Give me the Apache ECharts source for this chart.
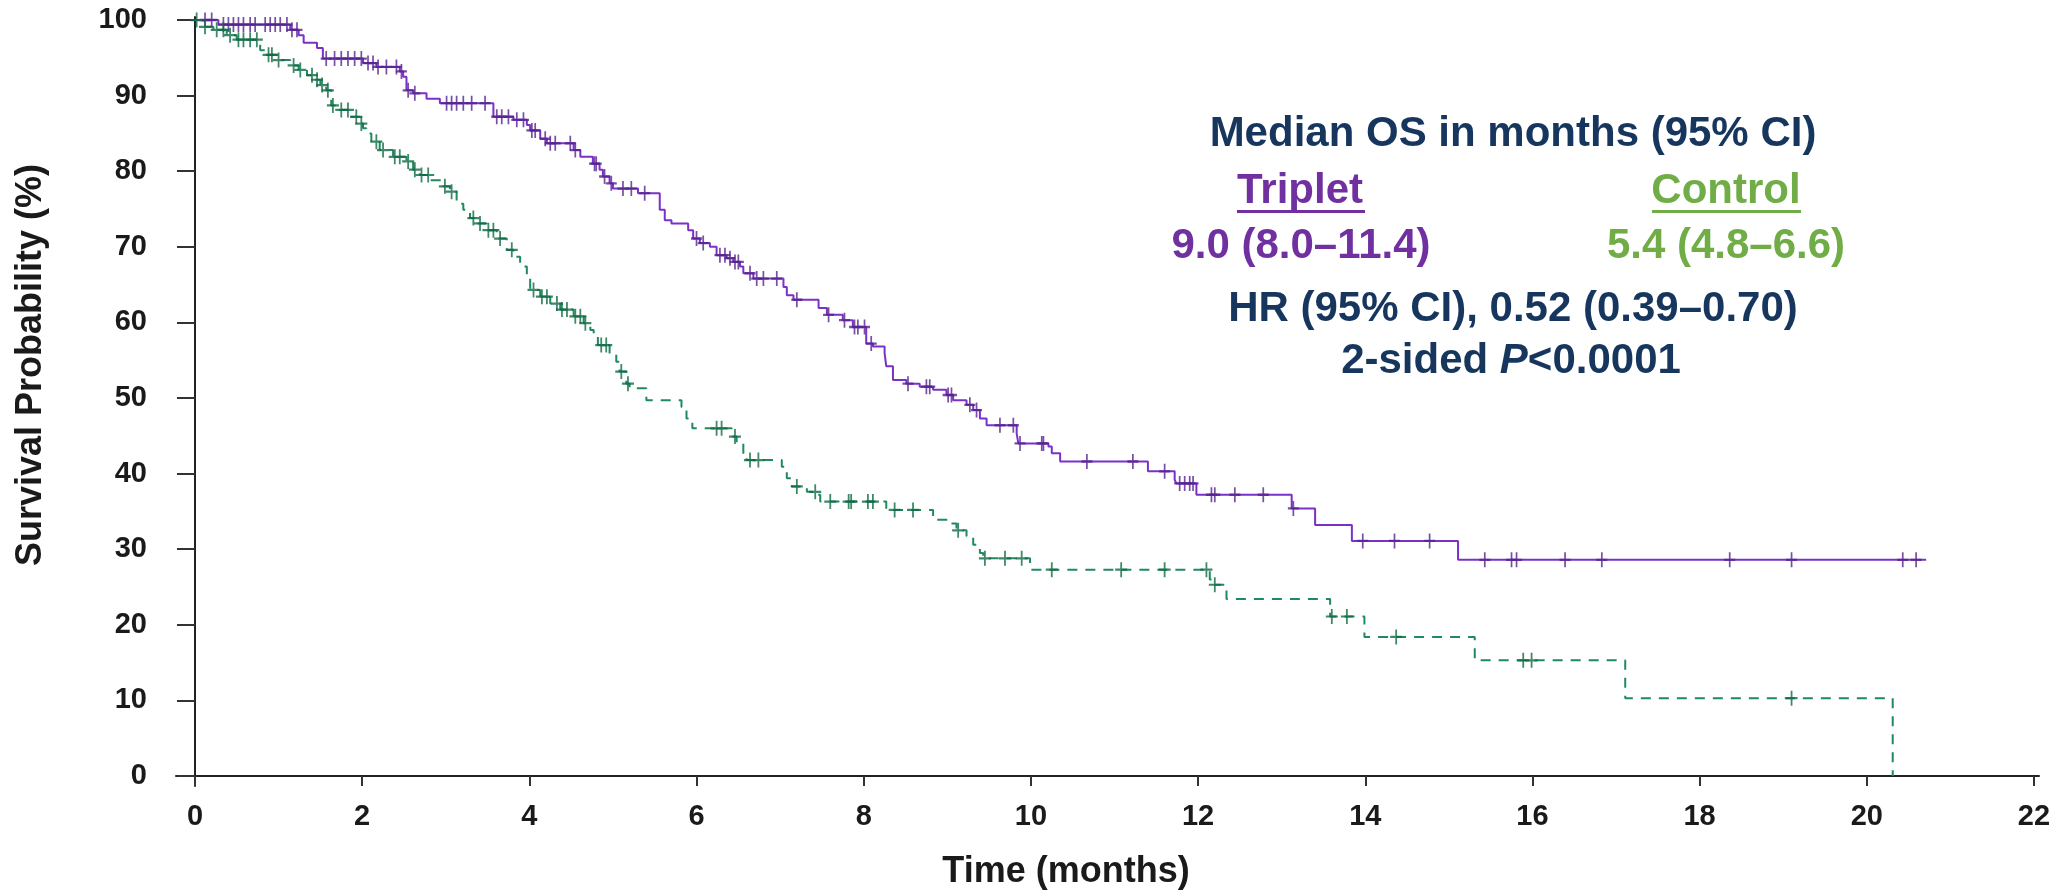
<!DOCTYPE html>
<html>
<head>
<meta charset="utf-8">
<title>Overall survival - Triplet vs Control</title>
<script src="https://cdn.jsdelivr.net/npm/echarts@6/dist/echarts.min.js"></script>
<style>
  html, body { margin: 0; padding: 0; background: #fff; }
  #chart { width: 2067px; height: 892px; }
</style>
</head>
<body>
<div id="chart"></div>
<script>
// KM curves: event time (months) and survival (%) just after it
var tripletTime = [0, 0.28, 1.14, 1.24, 1.30, 1.46, 1.53, 2.01, 2.17, 2.45, 2.49, 2.53, 2.61, 2.77, 2.93,
  3.57, 3.81, 3.97, 4.01, 4.13, 4.21, 4.53, 4.61, 4.76, 4.84, 4.88, 4.96, 5.00, 5.30, 5.56, 5.62, 5.70,
  5.90, 5.96, 6.04, 6.16, 6.24, 6.36, 6.44, 6.52, 6.56, 6.68, 7.04, 7.08, 7.16, 7.46, 7.56, 7.75, 7.87,
  8.03, 8.11, 8.25, 8.27, 8.35, 8.51, 8.67, 8.83, 8.99, 9.07, 9.23, 9.31, 9.39, 9.47, 9.83, 9.85, 10.21,
  10.25, 10.35, 11.40, 11.72, 11.74, 11.98, 13.12, 13.40, 13.84, 15.11, 20.71];
var tripletSurv = [100, 99.4, 98.7, 98.0, 97.0, 96.3, 94.9, 94.3, 93.8, 93.2, 92.5, 90.7, 90.3, 89.6, 89.0,
  87.2, 86.8, 86.1, 85.4, 84.3, 83.7, 82.8, 81.9, 81.0, 80.2, 79.3, 78.4, 77.7, 77.1, 74.9, 73.5, 73.1,
  72.2, 71.1, 70.5, 70.0, 68.9, 68.5, 68.0, 67.4, 66.5, 65.8, 64.7, 63.6, 63.0, 61.9, 61.0, 60.3, 59.4,
  57.2, 56.8, 55.9, 54.2, 52.4, 51.9, 51.5, 51.1, 50.4, 49.7, 49.1, 48.4, 47.3, 46.4, 45.3, 44.0, 43.6,
  42.7, 41.6, 40.3, 39.2, 38.7, 37.2, 35.4, 33.2, 31.1, 28.6, 28.6];

var controlTime = [0, 0.10, 0.22, 0.38, 0.50, 0.78, 0.86, 0.98, 1.14, 1.24, 1.34, 1.42, 1.50, 1.57, 1.63,
  1.73, 1.85, 1.97, 2.01, 2.05, 2.11, 2.21, 2.37, 2.53, 2.61, 2.69, 2.81, 2.97, 3.05, 3.13, 3.21, 3.29,
  3.37, 3.49, 3.61, 3.73, 3.81, 3.89, 3.97, 4.01, 4.13, 4.25, 4.37, 4.53, 4.65, 4.73, 4.77, 4.82, 4.96,
  5.04, 5.08, 5.16, 5.20, 5.40, 5.82, 5.88, 5.95, 6.42, 6.48, 6.56, 6.60, 7.02, 7.08, 7.14, 7.32, 7.44,
  7.48, 8.27, 8.83, 9.03, 9.11, 9.23, 9.31, 9.39, 9.43, 9.99, 12.14, 12.18, 12.34, 13.58, 13.99, 15.31,
  17.11, 20.31];
var controlSurv = [100, 99.1, 98.7, 98.0, 97.4, 96.0, 95.4, 94.7, 94.0, 93.4, 92.7, 92.1, 91.4, 90.7, 88.7,
  88.1, 87.2, 86.3, 85.7, 85.0, 83.9, 82.8, 81.9, 81.3, 80.2, 79.5, 78.8, 78.0, 77.3, 75.7, 74.9, 73.8,
  73.1, 72.2, 71.1, 69.6, 68.7, 67.4, 66.0, 64.3, 63.4, 62.5, 61.7, 60.8, 59.9, 59.0, 58.1, 57.0, 55.9,
  54.8, 53.5, 51.9, 51.3, 49.7, 48.8, 47.3, 46.0, 44.9, 44.0, 42.2, 41.8, 40.9, 39.4, 38.3, 37.6, 37.2,
  36.3, 35.2, 33.9, 33.4, 32.5, 31.7, 30.6, 29.5, 28.8, 27.3, 26.0, 25.3, 23.4, 21.1, 18.4, 15.3,
  10.3, 0];

// censored patients (months)
var tripletCensor = [0.12, 0.20, 0.34, 0.40, 0.46, 0.52, 0.58, 0.66, 0.72, 0.84, 0.90, 0.96, 1.02, 1.10,
  1.16, 1.22, 1.57, 1.67, 1.75, 1.83, 1.91, 1.99, 2.07, 2.13, 2.19, 2.29, 2.41, 2.47, 2.55, 2.63,
  3.01, 3.07, 3.13, 3.21, 3.31, 3.47, 3.61, 3.67, 3.75, 3.85, 3.93, 4.03, 4.07, 4.19, 4.25, 4.31,
  4.49, 4.55, 4.78, 4.80, 4.90, 4.98, 5.12, 5.22, 5.38, 6.00, 6.08, 6.28, 6.34, 6.40, 6.46, 6.50,
  6.64, 6.72, 6.80, 6.96, 7.20, 7.58, 7.77, 7.89, 7.93, 8.01, 8.09, 8.53, 8.75, 8.79, 9.01, 9.05,
  9.27, 9.35, 9.63, 9.79, 9.87, 10.13, 10.15, 10.67, 11.22, 11.60, 11.78, 11.84, 11.90, 11.94,
  12.16, 12.20, 12.44, 12.78, 13.14, 13.97, 14.35, 14.77, 15.43, 15.75, 15.81, 16.39, 16.83,
  18.36, 19.10, 20.43, 20.59];
var controlCensor = [0.02, 0.12, 0.26, 0.34, 0.42, 0.52, 0.58, 0.66, 0.74, 0.88, 0.92, 1.00, 1.18, 1.26,
  1.40, 1.46, 1.52, 1.59, 1.65, 1.75, 1.83, 1.93, 1.99, 2.17, 2.25, 2.39, 2.45, 2.55, 2.63, 2.71,
  2.79, 2.99, 3.07, 3.33, 3.41, 3.51, 3.57, 3.65, 3.79, 4.05, 4.15, 4.21, 4.33, 4.39, 4.45, 4.55,
  4.61, 4.67, 4.86, 4.92, 5.10, 5.18, 6.24, 6.30, 6.46, 6.64, 6.74, 7.20, 7.42, 7.60, 7.82, 7.85,
  8.05, 8.11, 8.37, 8.59, 9.13, 9.45, 9.69, 9.89, 10.25, 11.08, 11.60, 12.10, 12.20, 13.60, 13.78,
  14.37, 15.89, 15.99, 19.10];

var xTicks = [0, 2, 4, 6, 8, 10, 12, 14, 16, 18, 20, 22];
var yTicks = [0, 10, 20, 30, 40, 50, 60, 70, 80, 90, 100];

var FONT = "'Liberation Sans', Arial, Helvetica, sans-serif";
var NAVY = '#17365d';

function pairs(t, s) {
  var out = [];
  for (var i = 0; i < t.length; i++) out.push([t[i], s[i]]);
  return out;
}

// survival level of the step curve at time x
function survAt(x, t, s) {
  var v = s[0];
  for (var i = 0; i < t.length; i++) {
    if (t[i] <= x) v = s[i];
  }
  return v;
}

function censorPoints(c, t, s) {
  return c.map(function (x) { return [x, survAt(x, t, s)]; });
}

var plus = 'path://M0,8 L12,8 M6,0 L6,16';

function label(txt, x, y, color) {
  return {
    type: 'text', x: x, y: y,
    style: { text: txt, font: 'bold 42px ' + FONT, fill: color,
      align: 'center', verticalAlign: 'middle', textAlign: 'center', textVerticalAlign: 'middle' }
  };
}

var chart = echarts.init(document.getElementById('chart'));
chart.setOption({
  animation: false,
  backgroundColor: '#fff',
  grid: { left: 176, right: 28, top: 17, bottom: 106 },
  xAxis: {
    type: 'value',
    min: -0.227,
    max: 22.06,
    axisLine: { show: true, lineStyle: { color: '#222', width: 2 } },
    axisTick: { show: true, customValues: xTicks, length: 10, lineStyle: { color: '#333', width: 2 } },
    axisLabel: {
      customValues: xTicks, margin: 16,
      fontFamily: FONT, fontWeight: 'bold', fontSize: 29, color: '#1a1a1a'
    },
    splitLine: { show: false }
  },
  yAxis: {
    type: 'value',
    min: -1.32,
    max: 100.4,
    axisLine: { show: true, lineStyle: { color: '#222', width: 2 } },
    axisTick: { show: true, customValues: yTicks, length: 18, lineStyle: { color: '#333', width: 2 } },
    axisLabel: {
      customValues: yTicks, margin: 29,
      fontFamily: FONT, fontWeight: 'bold', fontSize: 29, color: '#1a1a1a'
    },
    splitLine: { show: false }
  },
  series: [
    {
      name: 'Triplet',
      type: 'line',
      step: 'end',
      showSymbol: false,
      data: pairs(tripletTime, tripletSurv),
      lineStyle: { color: '#7b30c8', width: 2 },
      z: 3
    },
    {
      name: 'Control',
      type: 'line',
      step: 'end',
      showSymbol: false,
      data: pairs(controlTime, controlSurv),
      lineStyle: { color: '#1f8a60', width: 2, type: [10, 8] },
      z: 2
    },
    {
      name: 'Triplet censored',
      type: 'scatter',
      symbol: plus,
      symbolSize: [11, 15],
      data: censorPoints(tripletCensor, tripletTime, tripletSurv),
      itemStyle: { color: 'transparent', borderColor: '#55238f', borderWidth: 2 },
      z: 4
    },
    {
      name: 'Control censored',
      type: 'scatter',
      symbol: plus,
      symbolSize: [12, 15],
      data: censorPoints(controlCensor, controlTime, controlSurv),
      itemStyle: { color: 'transparent', borderColor: '#0f6a43', borderWidth: 2 },
      z: 4
    }
  ],
  graphic: [
    {
      type: 'text', x: 31, y: 365, rotation: Math.PI / 2,
      style: { text: 'Survival Probability (%)', font: 'bold 36px ' + FONT, fill: '#1a1a1a',
        align: 'center', verticalAlign: 'middle', textAlign: 'center', textVerticalAlign: 'middle' }
    },
    {
      type: 'text', x: 1066, y: 872,
      style: { text: 'Time (months)', font: 'bold 36px ' + FONT, fill: '#1a1a1a',
        align: 'center', verticalAlign: 'middle', textAlign: 'center', textVerticalAlign: 'middle' }
    },
    label('Median OS in months (95% CI)', 1513, 134, NAVY),
    label('Triplet', 1300, 191, '#7030a0'),
    { type: 'rect', shape: { x: 1237, y: 210, width: 128, height: 3 }, style: { fill: '#7030a0' } },
    label('Control', 1726, 191, '#70ad47'),
    { type: 'rect', shape: { x: 1652, y: 210, width: 149, height: 3 }, style: { fill: '#70ad47' } },
    label('9.0 (8.0\u201311.4)', 1301, 246, '#7030a0'),
    label('5.4 (4.8\u20136.6)', 1726, 246, '#70ad47'),
    label('HR (95% CI), 0.52 (0.39\u20130.70)', 1513, 309, NAVY),
    {
      type: 'text', x: 1511, y: 361,
      style: {
        text: '{a|2-sided }{b|P}{a|<0.0001}',
        align: 'center', verticalAlign: 'middle', textAlign: 'center', textVerticalAlign: 'middle',
        rich: {
          a: { fontFamily: FONT, fontWeight: 'bold', fontSize: 42, fill: NAVY },
          b: { fontFamily: FONT, fontWeight: 'bold', fontStyle: 'italic', fontSize: 42, fill: NAVY }
        }
      }
    }
  ]
});
</script>
</body>
</html>
